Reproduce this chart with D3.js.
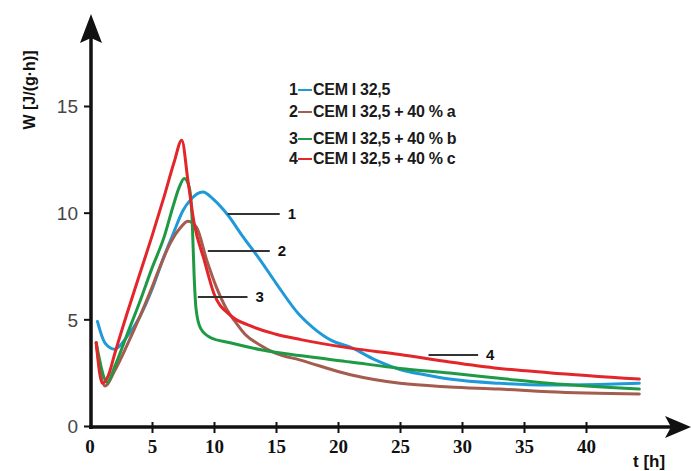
<!DOCTYPE html>
<html>
<head>
<meta charset="utf-8">
<script src="https://cdn.jsdelivr.net/npm/d3@7"></script>
<style>
  body { margin: 0; background: #fff; }
  svg { display: block; }
</style>
</head>
<body>
<svg id="canvas"></svg>
<script>
// heat flow curves: t in hours, W in J/(g·h)
let t1 = [0.6, 1.2, 2.0, 3.0, 4.0, 5.0, 6.0, 6.7, 7.5, 8.1, 9.1, 10.0, 11.1, 12.3, 13.7, 15.0, 16.9, 18.0, 19.5, 21.0, 23.0, 25.0, 27.0, 29.0, 33.0, 37.0, 41.0, 44.3];
let w1 = [4.9, 3.9, 3.6, 4.2, 5.1, 6.4, 8.0, 9.0, 10.1, 10.6, 10.97, 10.6, 9.9, 8.9, 7.8, 6.7, 5.2, 4.6, 4.0, 3.7, 3.1, 2.65, 2.4, 2.2, 2.0, 1.92, 1.95, 2.0];

let t2 = [0.5, 1.2, 2.0, 3.0, 4.0, 5.0, 5.6, 6.5, 7.3, 7.9, 8.6, 9.4, 10.2, 11.0, 11.7, 12.5, 13.7, 15.0, 16.9, 21.0, 25.0, 29.0, 33.0, 37.0, 44.3];
let w2 = [3.9, 1.87, 2.6, 3.8, 5.1, 6.5, 7.4, 8.6, 9.3, 9.6, 9.3, 7.8, 6.5, 5.5, 4.9, 4.3, 3.8, 3.4, 3.1, 2.4, 2.0, 1.83, 1.73, 1.6, 1.5];

let t3 = [0.5, 1.4, 2.0, 3.0, 4.0, 5.0, 6.0, 6.7, 7.2, 7.6, 8.0, 8.25, 8.4, 8.55, 8.9, 9.7, 11.3, 14.0, 16.9, 21.0, 25.0, 29.0, 33.0, 37.0, 44.3];
let w3 = [3.9, 2.05, 2.8, 4.3, 5.8, 7.4, 8.9, 10.3, 11.2, 11.6, 11.2, 9.5, 7.0, 5.5, 4.6, 4.15, 3.9, 3.55, 3.3, 3.0, 2.7, 2.48, 2.24, 2.0, 1.73];

let t4 = [0.5, 1.0, 1.5, 2.0, 3.0, 4.0, 5.0, 6.0, 6.8, 7.4, 7.9, 8.4, 9.2, 10.0, 11.3, 12.9, 15.0, 17.0, 21.0, 25.0, 29.0, 33.0, 37.0, 44.3];
let w4 = [3.9, 2.0, 2.4, 3.4, 5.3, 7.1, 8.9, 10.8, 12.4, 13.4, 11.5, 9.5, 7.8, 6.2, 5.2, 4.7, 4.3, 4.05, 3.65, 3.35, 3.0, 2.7, 2.5, 2.2];

let seriesNames = ["CEM I 32,5", "CEM I 32,5 + 40 % a", "CEM I 32,5 + 40 % b", "CEM I 32,5 + 40 % c"];
let seriesColors = ["#1f9ad8", "#a35c4d", "#1e9a44", "#e2262a"];

let xTicks = [5, 10, 15, 20, 25, 30, 35, 40];
let yTicks = [0, 5, 10, 15];

// leader lines to the curve numbers: [t start, t end, W]
let leaders = [
  [11.1, 15.3, 9.94],
  [9.5, 14.5, 8.2],
  [8.7, 12.7, 6.05],
  [27.3, 31.3, 3.33]
];

let width = 691,
  height = 471;

let canvas = d3.select("#canvas").attr("width", width).attr("height", height);

let xScale = d3.scaleLinear().domain([0, 40]).range([90, 586]);
let yScale = d3.scaleLinear().domain([0, 15]).range([426, 106]);

let series = [
  { t: t1, w: w1 },
  { t: t2, w: w2 },
  { t: t3, w: w3 },
  { t: t4, w: w4 }
];

let drawAxes = () => {
  // y axis, ticks only on the left
  let yAxis = d3.axisLeft(yScale).tickValues(yTicks).tickSize(7).tickPadding(6);
  let gy = canvas.append("g").attr("transform", "translate(91, 0)").call(yAxis);
  gy.select(".domain").remove();
  gy.selectAll(".tick line").attr("stroke", "#111").attr("stroke-width", 2);
  gy.selectAll(".tick text")
    .attr("font-family", "Liberation Sans, Arial, sans-serif")
    .attr("font-size", 19)
    .attr("fill", "#454545")
    .attr("dy", "0.36em");

  // x axis, ticks cross the line
  let xAxis = d3.axisBottom(xScale).tickValues(xTicks).tickSize(11).tickPadding(6);
  let gx = canvas.append("g").attr("transform", "translate(0, 427)").call(xAxis);
  gx.select(".domain").remove();
  gx.selectAll(".tick line").attr("stroke", "#111").attr("stroke-width", 2).attr("y1", -5).attr("y2", 6);
  gx.selectAll(".tick text")
    .attr("font-family", "Liberation Serif, Times New Roman, serif")
    .attr("font-weight", "bold")
    .attr("font-size", 19)
    .attr("fill", "#111")
    .attr("y", 13)
    .attr("dy", "0.71em");

  // 0 on x axis
  gx.append("text")
    .attr("x", xScale(0))
    .attr("y", 13)
    .attr("dy", "0.71em")
    .attr("text-anchor", "middle")
    .attr("font-family", "Liberation Serif, Times New Roman, serif")
    .attr("font-weight", "bold")
    .attr("font-size", 19)
    .attr("fill", "#111")
    .text("0");

  // axis lines with arrow heads
  canvas.append("line")
    .attr("x1", 91).attr("x2", 91).attr("y1", 429).attr("y2", 38)
    .attr("stroke", "#111").attr("stroke-width", 3.5);
  canvas.append("path")
    .attr("d", "M91,14 L80,43 L91,38 L102,43 Z")
    .attr("fill", "#111");

  canvas.append("line")
    .attr("x1", 89).attr("x2", 672).attr("y1", 427).attr("y2", 427)
    .attr("stroke", "#111").attr("stroke-width", 3.5);
  canvas.append("path")
    .attr("d", "M691,427 L665,416 L671,427 L665,438 Z")
    .attr("fill", "#111");

  canvas.append("text")
    .attr("x", 633).attr("y", 467)
    .attr("font-family", "Liberation Sans, Arial, sans-serif")
    .attr("font-weight", "bold")
    .attr("font-size", 17)
    .attr("fill", "#111")
    .text("t [h]");

  canvas.append("text")
    .attr("transform", "translate(35, 90) rotate(-90)")
    .attr("text-anchor", "middle")
    .attr("font-family", "Liberation Sans, Arial, sans-serif")
    .attr("font-weight", "bold")
    .attr("font-size", 16)
    .attr("fill", "#111")
    .text("W [J/(g·h)]");
};

let drawCurves = () => {
  let line = d3.line()
    .x((d) => xScale(d[0]))
    .y((d) => yScale(d[1]))
    .curve(d3.curveMonotoneX);

  canvas.selectAll(".curve")
    .data(series)
    .enter()
    .append("path")
    .attr("class", "curve")
    .attr("d", (s) => line(d3.zip(s.t, s.w)))
    .attr("fill", "none")
    .attr("stroke", (s, i) => seriesColors[i])
    .attr("stroke-width", 3)
    .attr("stroke-linejoin", "round")
    .attr("stroke-linecap", "round");
};

let drawLabels = () => {
  let g = canvas.append("g");
  leaders.forEach((l, i) => {
    g.append("line")
      .attr("x1", xScale(l[0])).attr("x2", xScale(l[1]))
      .attr("y1", yScale(l[2])).attr("y2", yScale(l[2]))
      .attr("stroke", "#333").attr("stroke-width", 2);
    g.append("text")
      .attr("x", xScale(l[1]) + 8)
      .attr("y", yScale(l[2]))
      .attr("dy", "0.36em")
      .attr("font-family", "Liberation Sans, Arial, sans-serif")
      .attr("font-weight", "bold")
      .attr("font-size", 15)
      .attr("fill", "#111")
      .text(i + 1);
  });
};

let drawLegend = () => {
  let rowY = [95, 117, 144, 164];
  let leg = canvas.append("g").attr("font-family", "Liberation Sans, Arial, sans-serif")
    .attr("font-weight", "bold").attr("font-size", 16).attr("fill", "#1a1a1a");
  seriesNames.forEach((name, i) => {
    leg.append("text").attr("x", 289).attr("y", rowY[i]).text(i + 1);
    leg.append("line")
      .attr("x1", 298).attr("x2", 312)
      .attr("y1", rowY[i] - 5).attr("y2", rowY[i] - 5)
      .attr("stroke", seriesColors[i]).attr("stroke-width", 2);
    leg.append("text").attr("x", 313).attr("y", rowY[i]).attr("letter-spacing", -0.3).text(name);
  });
};

drawCurves();
drawAxes();
drawLabels();
drawLegend();
</script>
</body>
</html>
